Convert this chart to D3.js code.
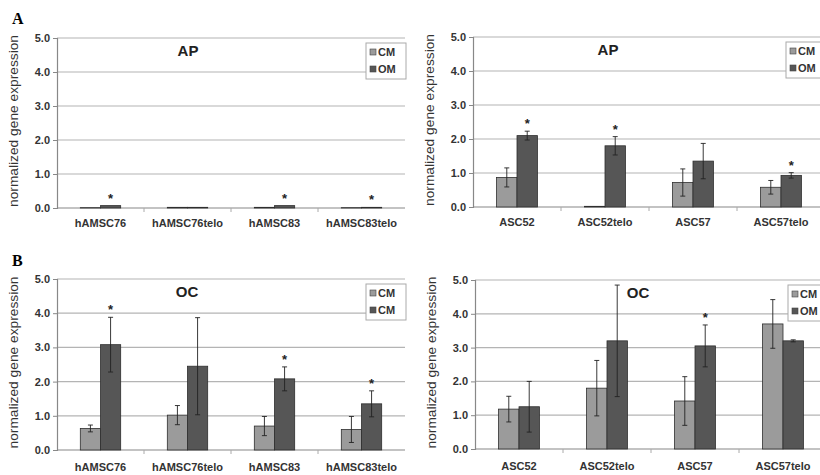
<!DOCTYPE html>
<html>
<head>
<meta charset="utf-8">
<script src="https://cdn.jsdelivr.net/npm/d3@7"></script>
<style>
  body { margin: 0; padding: 0; background: #fff; }
  svg { font-family: 'Liberation Sans', Arial, sans-serif; }
</style>
</head>
<body>
<svg id="chart" width="820" height="475"></svg>
<script>
// categories
const hamscCats = ['hAMSC76', 'hAMSC76telo', 'hAMSC83', 'hAMSC83telo']
const ascCats = ['ASC52', 'ASC52telo', 'ASC57', 'ASC57telo']
const yTicks = [0, 1, 2, 3, 4, 5]

// AP, hAMSC
const apHamscCM = [0.01, 0.02, 0.02, 0.01]
const apHamscOM = [0.07, 0.02, 0.07, 0.02]
const apHamscCMerr = [0, 0, 0, 0]
const apHamscOMerr = [0, 0, 0, 0]
const apHamscStarOM = [true, false, true, true]

// AP, ASC
const apAscCM = [0.87, 0.02, 0.72, 0.58]
const apAscOM = [2.1, 1.8, 1.35, 0.93]
const apAscCMerr = [0.28, 0, 0.4, 0.2]
const apAscOMerr = [0.13, 0.27, 0.52, 0.08]
const apAscStarOM = [true, true, false, true]

// OC, hAMSC
const ocHamscCM = [0.63, 1.02, 0.7, 0.6]
const ocHamscOM = [3.08, 2.45, 2.08, 1.35]
const ocHamscCMerr = [0.1, 0.28, 0.28, 0.38]
const ocHamscOMerr = [0.8, 1.42, 0.35, 0.38]
const ocHamscStarOM = [true, false, true, true]

// OC, ASC
const ocAscCM = [1.18, 1.8, 1.42, 3.7]
const ocAscOM = [1.25, 3.2, 3.05, 3.2]
const ocAscCMerr = [0.38, 0.82, 0.72, 0.72]
const ocAscOMerr = [0.75, 1.65, 0.62, 0.03]
const ocAscStarOM = [false, false, true, false]

const colors = {CM: '#9b9b9b', OM: '#565656'}

const svg = d3.select('#chart')

function panel (opt) {
  const g = svg.append('g')
  const x = d3.scaleBand().domain(opt.cats).range([opt.left, opt.right])
  const y = d3.scaleLinear().domain([0, 5]).range([opt.bottom, opt.top])

  // grid
  g.selectAll('line.grid')
    .data(yTicks.slice(1))
    .enter()
    .append('line')
    .attr('x1', opt.left).attr('x2', opt.right)
    .attr('y1', d => y(d)).attr('y2', d => y(d))
    .attr('stroke', '#b4b4b4')
    .attr('stroke-width', 1.2)

  // y axis
  const yAxis = d3.axisLeft(y).tickValues(yTicks).tickFormat(d3.format('.1f')).tickSize(4)
  const ya = g.append('g')
    .attr('transform', `translate(${opt.left},0)`)
    .call(yAxis)
  ya.select('.domain').attr('stroke', '#888').attr('stroke-width', 1.2)
  ya.selectAll('.tick line').attr('stroke', '#888')
  ya.selectAll('.tick text')
    .attr('font-size', 11).attr('font-weight', 'bold').attr('fill', '#333')
    .attr('x', -7)

  // x axis
  const xa = g.append('g').attr('transform', `translate(0,${opt.bottom})`)
  xa.append('line')
    .attr('x1', opt.left).attr('x2', opt.right)
    .attr('stroke', '#888').attr('stroke-width', 1.2)
  xa.selectAll('line.tk')
    .data(opt.cats.slice(1))
    .enter()
    .append('line')
    .attr('x1', d => x(d)).attr('x2', d => x(d))
    .attr('y1', 0).attr('y2', 4)
    .attr('stroke', '#aaa')
  xa.selectAll('text')
    .data(opt.cats)
    .enter()
    .append('text')
    .text(d => d)
    .attr('x', d => x(d) + x.bandwidth() / 2)
    .attr('y', opt.labelDy)
    .attr('text-anchor', 'middle')
    .attr('font-size', 11).attr('font-weight', 'bold').attr('fill', '#333')

  // axis title
  g.append('text')
    .text('normalized gene expression')
    .attr('transform', `translate(${opt.left - 39},${(opt.top + opt.bottom) / 2 - 2}) rotate(-90)`)
    .attr('text-anchor', 'middle')
    .attr('font-size', 12.5).attr('fill', '#333')
    .attr('textLength', 172)
    .attr('lengthAdjust', 'spacingAndGlyphs')

  // bars
  const bw = x.bandwidth() * 0.232
  const series = [
    {key: 'CM', vals: opt.cm, err: opt.cmErr, stars: opt.cmStar || [], off: -bw},
    {key: 'OM', vals: opt.om, err: opt.omErr, stars: opt.omStar || [], off: 0}
  ]
  series.forEach(s => {
    const sg = g.append('g')
    opt.cats.forEach((c, i) => {
      const cx = x(c) + x.bandwidth() / 2 + s.off
      const v = s.vals[i]
      sg.append('rect')
        .attr('x', cx).attr('width', bw)
        .attr('y', y(v)).attr('height', y(0) - y(v))
        .attr('fill', colors[s.key])
        .attr('stroke', '#2e2e2e').attr('stroke-width', 0.8)
      const e = s.err[i]
      const mx = cx + bw / 2
      if (e > 0) {
        sg.append('line')
          .attr('x1', mx).attr('x2', mx)
          .attr('y1', y(v - e)).attr('y2', y(v + e))
          .attr('stroke', '#222').attr('stroke-width', 0.9)
        ;[v - e, v + e].forEach(ev => {
          sg.append('line')
            .attr('x1', mx - 2.5).attr('x2', mx + 2.5)
            .attr('y1', y(ev)).attr('y2', y(ev))
            .attr('stroke', '#222').attr('stroke-width', 0.9)
        })
      }
      if (s.stars[i]) {
        sg.append('text')
          .text('*')
          .attr('x', mx).attr('y', y(v + e) - 3)
          .attr('text-anchor', 'middle')
          .attr('font-size', 13).attr('font-weight', 'bold').attr('fill', '#222')
      }
    })
  })

  // title
  g.append('text')
    .text(opt.title)
    .attr('x', opt.titleX).attr('y', opt.top + 18)
    .attr('text-anchor', 'middle')
    .attr('font-size', 15).attr('font-weight', 'bold').attr('fill', '#222')

  // legend
  const lg = g.append('g').attr('transform', `translate(${opt.legX},${opt.top + 5})`)
  lg.append('rect')
    .attr('width', 40).attr('height', 36)
    .attr('fill', '#fff').attr('stroke', '#aaa')
  opt.legend.forEach((l, i) => {
    lg.append('rect')
      .attr('x', 4).attr('y', 6 + i * 17).attr('width', 6).attr('height', 6)
      .attr('fill', colors[l.key]).attr('stroke', '#444').attr('stroke-width', 0.6)
    lg.append('text')
      .text(l.label)
      .attr('x', 12).attr('y', 13 + i * 17)
      .attr('font-size', 11).attr('font-weight', 'bold').attr('fill', '#333')
  })
}

panel({cats: hamscCats, left: 57, right: 405, top: 38, bottom: 208, labelDy: 19,
  cm: apHamscCM, om: apHamscOM, cmErr: apHamscCMerr, omErr: apHamscOMerr, omStar: apHamscStarOM,
  title: 'AP', titleX: 188, legX: 366,
  legend: [{key: 'CM', label: 'CM'}, {key: 'OM', label: 'OM'}]})

panel({cats: ascCats, left: 473, right: 825, top: 37, bottom: 207, labelDy: 19,
  cm: apAscCM, om: apAscOM, cmErr: apAscCMerr, omErr: apAscOMerr, omStar: apAscStarOM,
  title: 'AP', titleX: 608, legX: 786,
  legend: [{key: 'CM', label: 'CM'}, {key: 'OM', label: 'OM'}]})

panel({cats: hamscCats, left: 57, right: 405, top: 279, bottom: 450, labelDy: 21,
  cm: ocHamscCM, om: ocHamscOM, cmErr: ocHamscCMerr, omErr: ocHamscOMerr, omStar: ocHamscStarOM,
  title: 'OC', titleX: 187, legX: 366,
  legend: [{key: 'CM', label: 'CM'}, {key: 'OM', label: 'CM'}]})

panel({cats: ascCats, left: 475, right: 827, top: 280, bottom: 449, labelDy: 21,
  cm: ocAscCM, om: ocAscOM, cmErr: ocAscCMerr, omErr: ocAscOMerr, omStar: ocAscStarOM,
  title: 'OC', titleX: 638, legX: 788,
  legend: [{key: 'CM', label: 'CM'}, {key: 'OM', label: 'OM'}]})

// panel letters
svg.append('text').text('A').attr('x', 12).attr('y', 24)
  .attr('font-family', "'Liberation Serif', serif").attr('font-size', 16).attr('font-weight', 'bold')
svg.append('text').text('B').attr('x', 12).attr('y', 266)
  .attr('font-family', "'Liberation Serif', serif").attr('font-size', 16).attr('font-weight', 'bold')
</script>
</body>
</html>
